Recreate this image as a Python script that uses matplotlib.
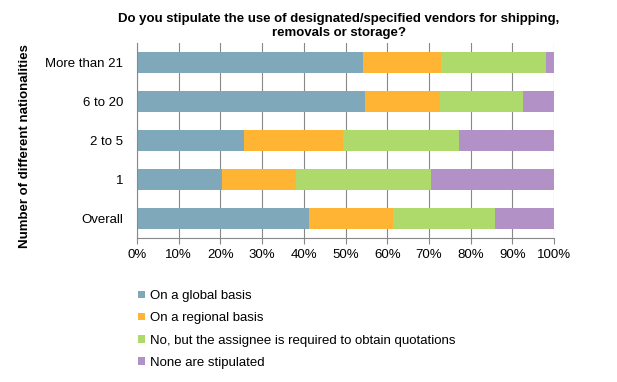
import matplotlib
matplotlib.use("Agg")
import matplotlib.pyplot as plt
from matplotlib.patches import Patch
import numpy as np

plt.rcParams['font.family'] = ['Liberation Sans', 'DejaVu Sans']

categories = ["More than 21", "6 to 20", "2 to 5", "1", "Overall"]
series_names = ["On a global basis", "On a regional basis",
                "No, but the assignee is required to obtain quotations",
                "None are stipulated"]
global_basis = [54.1, 54.7, 25.7, 20.4, 41.3]
regional_basis = [18.9, 18.0, 23.6, 17.7, 20.1]
quotations = [25.0, 19.9, 28.0, 32.4, 24.5]
none_stipulated = [2.0, 7.4, 22.7, 29.5, 14.1]
colors = ["#7FA9BA", "#FFB533", "#AEDA6B", "#B292C6"]
xticks = np.arange(0, 101, 10)
xticklabels = [f"{v}%" for v in xticks]

FS = 9.5

fig = plt.figure(figsize=(6.17, 3.82), dpi=100)
ax = fig.add_axes([137/617, 1-238/382, (554-137)/617, (238-43)/382])

data = [global_basis, regional_basis, quotations, none_stipulated]
y = np.arange(len(categories))
left = np.zeros(len(categories))
for vals, c, name in zip(data, colors, series_names):
    vals = np.array(vals)
    ax.barh(y, vals, left=left, height=0.56, color=c, label=name, zorder=2)
    left += vals

ax.set_xlim(0, 100)
ax.set_ylim(len(categories) - 0.5, -0.5)
ax.set_yticks(y)
ax.set_yticklabels(categories, fontsize=FS)
ax.set_xticks(xticks)
ax.set_xticklabels(xticklabels, fontsize=FS)
ax.grid(axis='x', color='#888888', linewidth=0.8, zorder=0)
for s in ['top', 'right']:
    ax.spines[s].set_visible(False)
for s in ['left', 'bottom']:
    ax.spines[s].set_color('#888888')
    ax.spines[s].set_linewidth(0.8)
ax.tick_params(axis='y', length=0, pad=10)
ax.tick_params(axis='x', length=4, color='#888888', pad=4)

fig.text(25.5/617, 1-146.5/382, "Number of different nationalities",
         rotation=90, ha='center', va='center', fontsize=FS, fontweight='bold')

fig.text(339/617, 1-26/382,
         "Do you stipulate the use of designated/specified vendors for shipping,\nremovals or storage?",
         ha='center', va='center', fontsize=FS, fontweight='bold', linespacing=1.3)

handles = [Patch(facecolor=c, edgecolor='none') for c in colors]
fig.legend(handles, series_names, loc='upper left', bbox_to_anchor=(138/617, 1-290/382),
           frameon=False, fontsize=FS, handlelength=0.5, handleheight=0.5,
           handletextpad=0.4, labelspacing=0.78, borderaxespad=0, borderpad=0)

fig.savefig("out.png", dpi=100)
